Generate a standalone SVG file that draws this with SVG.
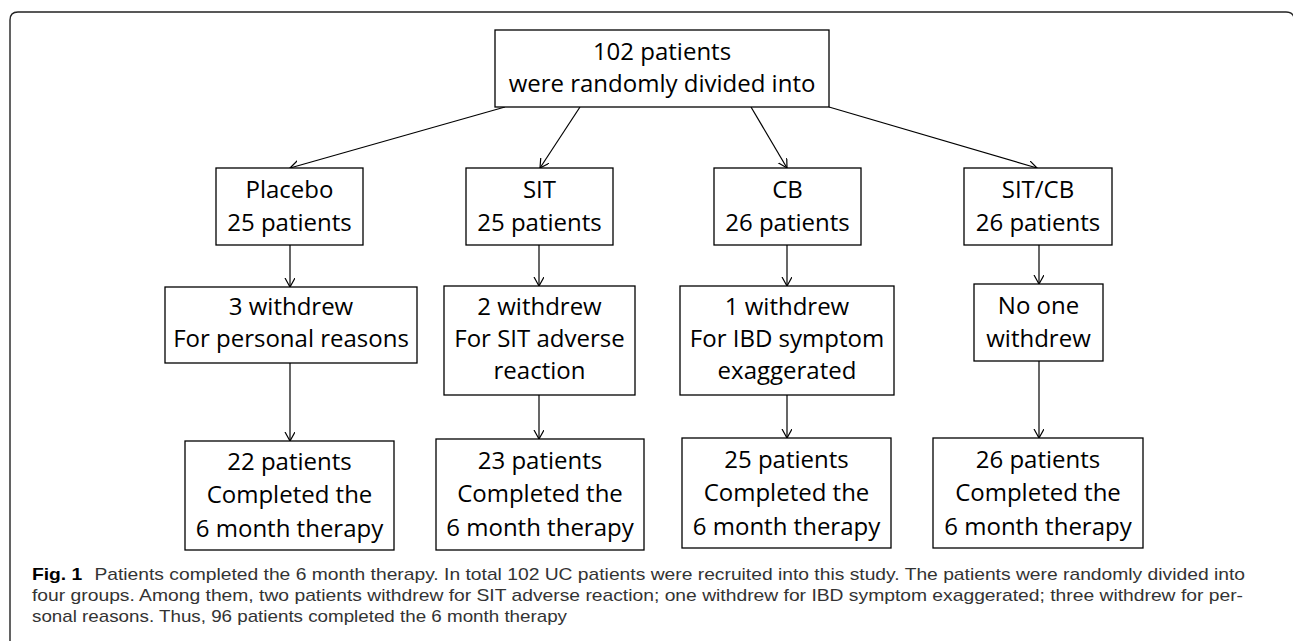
<svg xmlns="http://www.w3.org/2000/svg" width="1293" height="641" viewBox="0 0 1293 641">
<style>
.box{fill:#fff;stroke:#000;stroke-width:1.3}
.t{font-family:"Open Sans","Noto Sans",sans-serif;font-size:24px;fill:#000;text-anchor:middle}
.c{font-family:"Liberation Sans",Arial,sans-serif;font-size:17px;fill:#333}
.conn line{stroke:#000;stroke-width:1.2;fill:none;marker-end:url(#ah)}
</style>
<defs>
<marker id="ah" markerUnits="userSpaceOnUse" markerWidth="12" markerHeight="12" refX="9" refY="5" orient="auto">
<path d="M0,0 L9,5 L0,10" fill="none" stroke="#000" stroke-width="1.2"/>
</marker>
</defs>
<rect width="1293" height="641" fill="#fff"/>
<path d="M10,641 V20 Q10,12 18,12 H1286 Q1293,12 1294,18 V641" fill="none" stroke="#222" stroke-width="1.4"/>

<g class="conn">
<line x1="505" y1="107" x2="290" y2="168"/>
<line x1="580" y1="107" x2="540" y2="168"/>
<line x1="751" y1="107" x2="787" y2="168"/>
<line x1="829" y1="107" x2="1037" y2="168"/>
<line x1="290" y1="245" x2="290" y2="287"/>
<line x1="290" y1="363" x2="290" y2="441"/>
<line x1="539" y1="245" x2="539" y2="286"/>
<line x1="539" y1="395" x2="539" y2="439"/>
<line x1="787" y1="245" x2="787" y2="286"/>
<line x1="787" y1="395" x2="787" y2="438"/>
<line x1="1039" y1="245" x2="1039" y2="284"/>
<line x1="1039" y1="361" x2="1039" y2="438"/>
</g>

<g id="top">
<rect class="box" x="495" y="30" width="334" height="77"/>
<text class="t" x="662" y="60">102 patients</text>
<text class="t" x="662" y="92">were randomly divided into</text>
</g>

<g id="placebo">
<rect class="box" x="216" y="168" width="147" height="77"/>
<text class="t" x="289.5" y="198">Placebo</text>
<text class="t" x="289.5" y="231">25 patients</text>
</g>
<g id="sit">
<rect class="box" x="466" y="168" width="147" height="77"/>
<text class="t" x="539.5" y="198">SIT</text>
<text class="t" x="539.5" y="231">25 patients</text>
</g>
<g id="cb">
<rect class="box" x="714" y="168" width="147" height="77"/>
<text class="t" x="787.5" y="198">CB</text>
<text class="t" x="787.5" y="231">26 patients</text>
</g>
<g id="sitcb">
<rect class="box" x="964" y="168" width="148" height="77"/>
<text class="t" x="1038" y="198">SIT/CB</text>
<text class="t" x="1038" y="231">26 patients</text>
</g>

<g id="placebo-withdrew">
<rect class="box" x="165" y="287" width="252" height="76"/>
<text class="t" x="291" y="315">3 withdrew</text>
<text class="t" x="291" y="347">For personal reasons</text>
</g>
<g id="sit-withdrew">
<rect class="box" x="444" y="286" width="191" height="109"/>
<text class="t" x="539.5" y="315">2 withdrew</text>
<text class="t" x="539.5" y="347">For SIT adverse</text>
<text class="t" x="539.5" y="379">reaction</text>
</g>
<g id="cb-withdrew">
<rect class="box" x="680" y="286" width="214" height="109"/>
<text class="t" x="787" y="315">1 withdrew</text>
<text class="t" x="787" y="347">For IBD symptom</text>
<text class="t" x="787" y="379">exaggerated</text>
</g>
<g id="sitcb-withdrew">
<rect class="box" x="974" y="284" width="129" height="77"/>
<text class="t" x="1038.5" y="314">No one</text>
<text class="t" x="1038.5" y="347">withdrew</text>
</g>

<g id="placebo-completed">
<rect class="box" x="185" y="441" width="209" height="109"/>
<text class="t" x="289.5" y="470">22 patients</text>
<text class="t" x="289.5" y="503">Completed the</text>
<text class="t" x="289.5" y="537">6 month therapy</text>
</g>
<g id="sit-completed">
<rect class="box" x="436" y="439" width="208" height="111"/>
<text class="t" x="540" y="469">23 patients</text>
<text class="t" x="540" y="502">Completed the</text>
<text class="t" x="540" y="536">6 month therapy</text>
</g>
<g id="cb-completed">
<rect class="box" x="682" y="438" width="209" height="110"/>
<text class="t" x="786.5" y="468">25 patients</text>
<text class="t" x="786.5" y="501">Completed the</text>
<text class="t" x="786.5" y="535">6 month therapy</text>
</g>
<g id="sitcb-completed">
<rect class="box" x="933" y="438" width="210" height="110"/>
<text class="t" x="1038" y="468">26 patients</text>
<text class="t" x="1038" y="501">Completed the</text>
<text class="t" x="1038" y="535">6 month therapy</text>
</g>

<g id="caption">
<text class="c" x="32" y="580" textLength="1213" lengthAdjust="spacingAndGlyphs"><tspan font-weight="bold" fill="#000">Fig. 1</tspan><tspan dx="6"> Patients completed the 6 month therapy. In total 102 UC patients were recruited into this study. The patients were randomly divided into</tspan></text>
<text class="c" x="32" y="601" textLength="1211" lengthAdjust="spacingAndGlyphs">four groups. Among them, two patients withdrew for SIT adverse reaction; one withdrew for IBD symptom exaggerated; three withdrew for per-</text>
<text class="c" x="32" y="622" textLength="535" lengthAdjust="spacingAndGlyphs">sonal reasons. Thus, 96 patients completed the 6 month therapy</text>
</g>
</svg>
